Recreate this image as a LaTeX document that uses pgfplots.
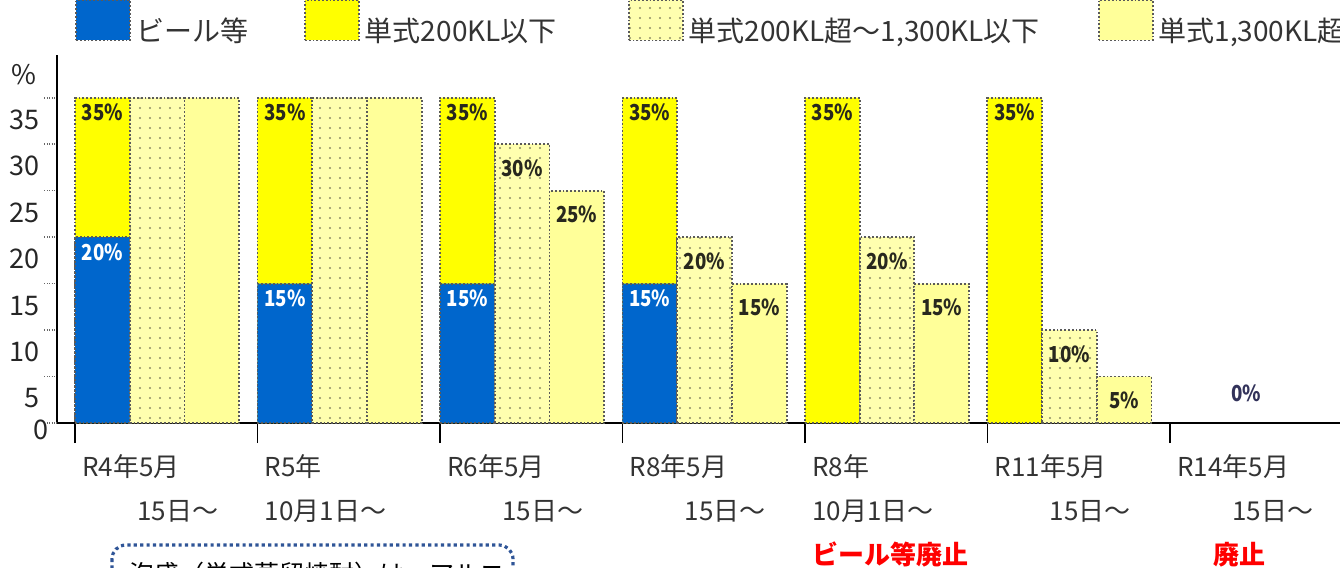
\documentclass[border=0pt]{standalone}
\usepackage{fontspec}
\setmainfont{Noto Sans CJK JP}
\newfontfamily\labfont[FakeStretch=0.85]{Noto Sans CJK JP}
\usepackage{pgfplots}
\pgfplotsset{compat=1.18}
\usetikzlibrary{patterns.meta}

\definecolor{beerblue}{RGB}{0,102,204}
\definecolor{ylw}{RGB}{255,255,0}
\definecolor{dotbg}{RGB}{255,255,175}
\definecolor{dotfg}{RGB}{140,140,100}
\definecolor{pale}{RGB}{255,255,153}
\definecolor{edge}{RGB}{90,90,90}
\definecolor{boxblue}{RGB}{47,85,151}
\definecolor{labdark}{RGB}{40,40,30}
\definecolor{zeronavy}{RGB}{50,50,90}

\pgfplotsset{
  barbase/.style={ybar, bar width=0.3, bar shift=0pt, draw=edge, densely dotted, line width=0.9pt},
  dotfill/.style={fill=dotbg, postaction={pattern={Dots[distance=5pt, radius=0.6pt]}, pattern color=dotfg}},
  lab/.style={nodes near coords={\pgfmathprintnumber{\pgfplotspointmeta}\%},
    nodes near coords style={anchor=center, yshift=#1, font={\labfont\fontsize{11pt}{13pt}\selectfont\bfseries}, text=labdark}},
}

\begin{document}
\begin{tikzpicture}
\begin{axis}[
  at={(0,0)}, anchor=south west,
  scale only axis, width=643.75pt, height=184pt,
  xmin=-0.096, xmax=6.96, ymin=0, ymax=39.6,
  axis x line=bottom, axis y line=left,
  axis line style={-, black, line width=1pt},
  tick align=outside,
  xtick={0,...,6},
  xticklabels={
    {R4年5月\\\hspace*{27.5pt}15日～},
    {R5年\\10月1日～},
    {R6年5月\\\hspace*{27.5pt}15日～},
    {R8年5月\\\hspace*{27.5pt}15日～},
    {R8年\\10月1日～\\\textcolor{red}{\bfseries ビール等廃止}},
    {R11年5月\\\hspace*{27.5pt}15日～},
    {R14年5月\\\hspace*{27.5pt}15日～\\\hspace*{18pt}\textcolor{red}{\bfseries 廃止}}
  },
  xtick style={/pgfplots/major tick length=10pt, black, solid, line width=0.8pt},
  ytick={5,10,...,35},
  ytick style={/pgfplots/major tick length=6.5pt, black!60, densely dotted, line width=0.8pt},
  extra y ticks={0},
  extra y tick style={major tick length=0pt, yticklabel style={yshift=7.5pt}},
  xticklabel style={anchor=north west, align=left, inner sep=0pt, xshift=3.5pt, yshift=-11.5pt,
    font=\fontsize{13pt}{22pt}\selectfont, text=black!80},
  yticklabel style={anchor=east, inner sep=0pt, yshift=-11pt, xshift=-4.5pt,
    font=\fontsize{13.5pt}{15pt}\selectfont, text=black!85},
  /pgf/number format/assume math mode=true,
  ylabel={\%},
  ylabel style={rotate=-90, at={(axis description cs:0,1)}, anchor=center,
    xshift=-17pt, yshift=-10pt, font=\fontsize{13.5pt}{15pt}\selectfont, text=black!85},
  clip=false,
  legend columns=4,
  legend cell align=left,
  legend image code/.code={\draw[#1] (0pt,-4.7pt) rectangle (27pt,15.3pt);},
  legend style={draw=none, fill=none, inner sep=0pt, column sep=0pt, row sep=0pt,
    nodes={inner sep=0pt}, at={(axis description cs:0,1)}, anchor=west,
    xshift=8.75pt, yshift=16.5pt, font=\fontsize{14pt}{16pt}\selectfont, text=black!80},
]
\addlegendimage{draw=edge, densely dotted, line width=0.9pt, fill=beerblue}
\addlegendentry{\makebox[86.5pt][l]{\hspace{2.5pt}ビール等}}
\addlegendimage{draw=edge, densely dotted, line width=0.9pt, fill=ylw}
\addlegendentry{\makebox[134pt][l]{\hspace{2.5pt}単式200KL以下}}
\addlegendimage{draw=edge, densely dotted, line width=0.9pt, dotfill}
\addlegendentry{\makebox[207pt][l]{\hspace{2.5pt}単式200KL超～1,300KL以下}}
\addlegendimage{draw=edge, densely dotted, line width=0.9pt, fill=pale}
\addlegendentry{\hspace{2.5pt}単式1,300KL超}

% 単式200KL以下 (total rate)
\addplot[forget plot, barbase, fill=ylw, lab=-7.5pt]
  coordinates {(0.15,35) (1.15,35) (2.15,35) (3.15,35) (4.15,35) (5.15,35)};
% ビール等
\addplot[forget plot, barbase, fill=beerblue, lab=-7.5pt,
  nodes near coords style={text=white}]
  coordinates {(0.15,20) (1.15,15) (2.15,15) (3.15,15)};
% 単式200KL超～1,300KL以下
\addplot[forget plot, barbase, dotfill]
  coordinates {(0.45,35) (1.45,35)};
\addplot[forget plot, barbase, dotfill, lab=-12pt]
  coordinates {(2.45,30) (3.45,20) (4.45,20) (5.45,10)};
% 単式1,300KL超
\addplot[forget plot, barbase, fill=pale]
  coordinates {(0.75,35) (1.75,35)};
\addplot[forget plot, barbase, fill=pale, lab=-12pt]
  coordinates {(2.75,25) (3.75,15) (4.75,15) (5.75,5)};
% R14: 0%
\addplot[forget plot, draw=none, mark=none, lab=14.75pt,
  nodes near coords style={text=zeronavy}]
  coordinates {(6.42,0)};
\end{axis}
\draw[boxblue, line width=1.6pt, dash pattern=on 1.6pt off 1.6pt, rounded corners=7pt]
  (27.25pt,-61pt) rectangle (227.75pt,-110pt);
\node[anchor=north west, inner sep=0pt, font=\fontsize{12.5pt}{14pt}\selectfont]
  at (36pt,-69.5pt) {泡盛（単式蒸留焼酎）は、アルコ};
\pgfresetboundingbox
\useasboundingbox (-28.75pt,-72.5pt) rectangle (641.25pt,211.5pt);
\end{tikzpicture}
\end{document}
